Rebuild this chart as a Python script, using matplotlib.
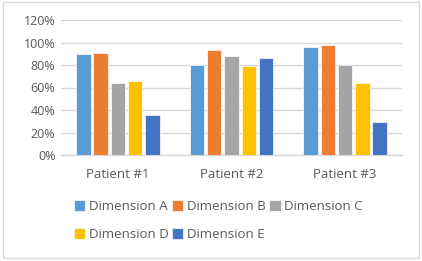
import numpy as np
import matplotlib
matplotlib.use('Agg')
import matplotlib.pyplot as plt
import matplotlib.patches as mpatches

plt.rcParams['font.family'] = ['Open Sans', 'DejaVu Sans']

patients = ['Patient #1', 'Patient #2', 'Patient #3']
dimensions = ['Dimension A', 'Dimension B', 'Dimension C', 'Dimension D', 'Dimension E']
dim_a = [90, 80, 96]
dim_b = [91, 93, 98]
dim_c = [64, 88, 80]
dim_d = [66, 79, 64]
dim_e = [36, 86, 29]
colors = ['#5B9BD5', '#ED7D31', '#A5A5A5', '#FFC000', '#4472C4']
text_color = '#595959'

series = [dim_a, dim_b, dim_c, dim_d, dim_e]

fig = plt.figure(figsize=(4.22, 2.61), dpi=100)
# chart border
fig.patches.append(mpatches.Rectangle((3 / 422, 3 / 261), 416 / 422, 256 / 261,
                                      transform=fig.transFigure, fill=False,
                                      edgecolor='#D9D9D9', linewidth=1))

ax = fig.add_axes([61 / 422, 1 - 155 / 261, 341 / 422, 135 / 261])

x = np.arange(len(patients))
step = 0.152
width = 0.128
for i, (vals, col) in enumerate(zip(series, colors)):
    ax.bar(x + (i - 2) * step, vals, width=width, color=col, edgecolor='white',
           linewidth=0.5, label=dimensions[i], zorder=3)

ax.set_xlim(-0.5, 2.5)
ax.set_ylim(0, 120)
ax.set_yticks(range(0, 121, 20))
ax.set_yticklabels([f'{v}%' for v in range(0, 121, 20)])
ax.set_xticks(x)
ax.set_xticklabels(patients)
ax.tick_params(axis='both', length=0, colors=text_color)
ax.tick_params(axis='x', pad=9, labelsize=9.5)
ax.tick_params(axis='y', pad=4, labelsize=9)
ax.grid(axis='y', color='#D9D9D9', linewidth=1, zorder=0)
for s in ['left', 'right', 'top']:
    ax.spines[s].set_visible(False)
ax.spines['bottom'].set_color('#D9D9D9')
ax.spines['bottom'].set_linewidth(1)

handles, labels = ax.get_legend_handles_labels()
order = [0, 3, 1, 4, 2]
leg = fig.legend([handles[k] for k in order], [labels[k] for k in order],
                 ncol=3, loc='upper left', bbox_to_anchor=(74 / 422, 1 - 200 / 261),
                 frameon=False, fontsize=9.5, handlelength=0.85, handleheight=0.85,
                 handletextpad=0.25, columnspacing=0.3, labelspacing=1.15,
                 borderaxespad=0, borderpad=0)
for t in leg.get_texts():
    t.set_color(text_color)

fig.savefig('out.png', dpi=100)
